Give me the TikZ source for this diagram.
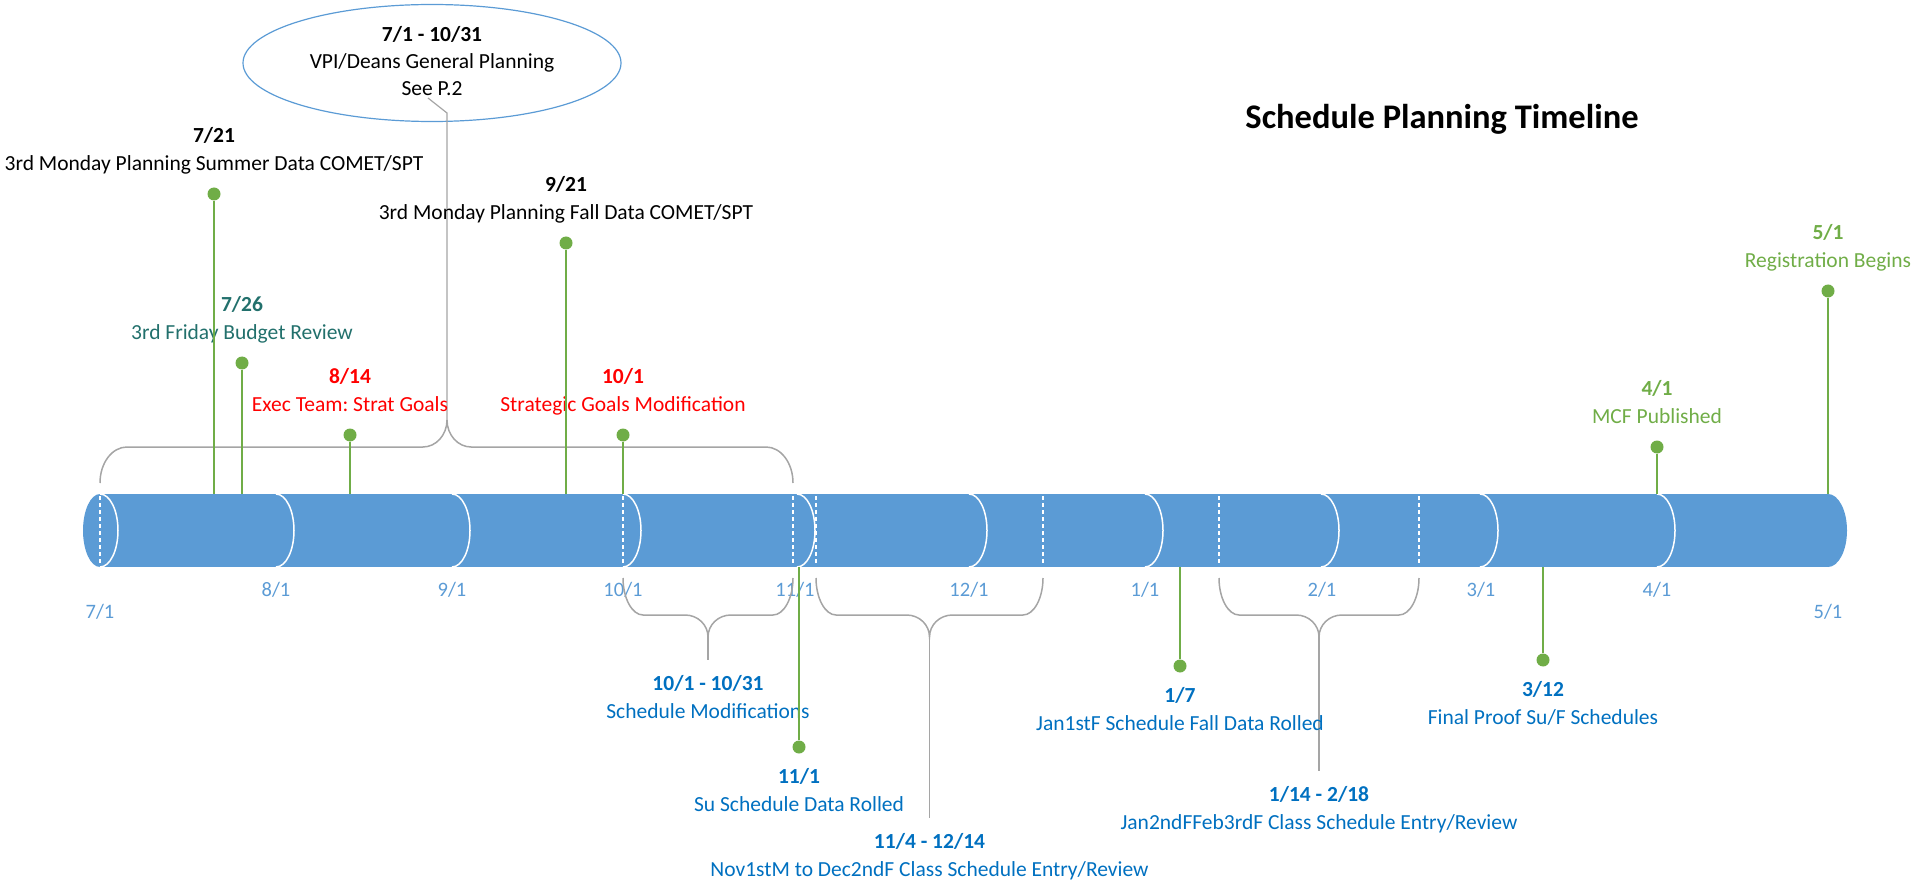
\documentclass[tikz,border=0pt]{standalone}
\usepackage{fontspec}
\setmainfont{Carlito}
\usetikzlibrary{positioning,shapes.geometric}
\frenchspacing

\definecolor{barblue}{HTML}{5B9BD5}
\definecolor{dotgreen}{HTML}{70AD47}
\definecolor{bracegray}{HTML}{A5A5A5}
\definecolor{evblue}{HTML}{0070C0}
\definecolor{evteal}{HTML}{22706C}
\definecolor{evred}{HTML}{FF0000}

\newcommand\evlabel[2]{\textbf{#1}\strut\\#2\strut}

\begin{document}
\begin{tikzpicture}[x=1pt, y=1pt,
    font=\fontsize{21.5}{28}\selectfont,
    dot/.style={circle, fill=dotgreen, inner sep=0pt, minimum size=13pt},
    stem/.style={dotgreen, line width=2pt},
    evtext/.style={align=center, inner sep=0pt},
    bracepath/.style={bracegray, line width=1.5pt},
    segarc/.style={white, line width=1.5pt},
    segcut/.style={white, line width=1.5pt, dash pattern=on 4pt off 3pt},
    month/.style={text=barblue, inner sep=0pt, font=\fontsize{20.5}{24}\selectfont}]
  \useasboundingbox (0,0) rectangle (1916,-882);

  % Title
  \node[font=\fontsize{34.5}{40}\selectfont\bfseries] (title) at (1442,-119) {Schedule Planning Timeline};

  % Timeline bar
  \coordinate (bartop) at (0,-494);
  \coordinate (barbot) at (0,-567);
  \fill[barblue] (100,-494) rectangle (1828,-567);
  \fill[barblue] (100,-530.5) ellipse [x radius=17, y radius=36.5];
  \fill[barblue] (1828,-494) arc [start angle=90, end angle=-90, x radius=19, y radius=36.5] -- cycle;
  \foreach \x in {100,276,452,623,797,969,1145,1321,1480,1657}
    \draw[segarc] (\x,-494) arc [start angle=90, end angle=-90, x radius=18, y radius=36.5];
  \foreach \x in {100,623,793,816,1043,1219,1419}
    \draw[segcut] (\x,-496) -- (\x,-565);

  % Months
  \foreach \x/\m in {276/8,452/9,623/10,795/11,969/12,1145/1,1322/2,1481/3,1657/4}
    \node[month] (m\m) at (\x,-590) {\m/1};
  \node[month] (m7) at (100,-612) {7/1};
  \node[month] (m5) at (1828,-612) {5/1};

  % General planning
  \node[ellipse, draw=barblue, line width=1.2pt, inner sep=0pt, minimum width=378pt,
        minimum height=117pt, align=center, font=\fontsize{21.5}{27}\selectfont] (vpi) at (432,-63)
        {\textbf{7/1 - 10/31}\strut\\VPI/Deans General Planning\strut\\See P.2\strut};
  \coordinate (seep) at (428,-98);
  \coordinate (toptip) at (447,-420);
  \draw[bracepath] (100,-483) .. controls (100,-463) and (112,-447) .. (127,-447)
    -- (423,-447) .. controls (436,-447) and (447,-435) .. (toptip)
    .. controls (447,-435) and (458,-447) .. (471,-447)
    -- (766,-447) .. controls (781,-447) and (793,-463) .. (793,-483);
  \draw[bracegray, line width=1.2pt] (seep) -- ++(19,-15) -- (toptip);

  % Ranges below the bar
  \foreach \a/\b/\n/\s in {623/793/A/660, 816/1043/B/818, 1219/1419/C/771}{
    \pgfmathsetmacro\m{(\a+\b)/2}
    \coordinate (tip\n) at (\m,-637);
    \coordinate (end\n) at (\m,-\s);
    \draw[bracepath] (\a,-578) .. controls (\a,-598) and ({\a+9},-615) .. ({\a+20},-615)
      -- ({\m-23},-615) .. controls ({\m-10},-615) and (\m,-625) .. (tip\n)
      .. controls (\m,-625) and ({\m+10},-615) .. ({\m+23},-615)
      -- ({\b-20},-615) .. controls ({\b-9},-615) and (\b,-598) .. (\b,-578);
    \draw[bracepath] (tip\n) -- (end\n);
  }
  \node[evtext, text=evblue, below=11pt of endA] (tA) {\evlabel{10/1 - 10/31}{Schedule Modifications}};
  \node[evtext, text=evblue, below=11pt of endB] (tB) {\evlabel{11/4 - 12/14}{Nov1stM to Dec2ndF Class Schedule Entry/Review}};
  \node[evtext, text=evblue, below=11pt of endC] (tC) {\evlabel{1/14 - 2/18}{Jan2ndFFeb3rdF Class Schedule Entry/Review}};

  % Events above the bar
  \node[dot] (d721) at (214,-194) {};
  \node[evtext, above=8.6pt of d721] (t721) {\evlabel{7/21}{3rd Monday Planning Summer Data COMET/SPT}};
  \node[dot] (d726) at (242,-363) {};
  \node[evtext, text=evteal, above=8.6pt of d726] (t726) {\evlabel{7/26}{3rd Friday Budget Review}};
  \node[dot] (d814) at (350,-435) {};
  \node[evtext, text=evred, above=8.6pt of d814] (t814) {\evlabel{8/14}{Exec Team: Strat Goals}};
  \node[dot] (d921) at (566,-243) {};
  \node[evtext, above=8.6pt of d921] (t921) {\evlabel{9/21}{3rd Monday Planning Fall Data COMET/SPT}};
  \node[dot] (d101) at (623,-435) {};
  \node[evtext, text=evred, above=8.6pt of d101] (t101) {\evlabel{10/1}{Strategic Goals Modification}};
  \node[dot] (d401) at (1657,-447) {};
  \node[evtext, text=dotgreen, above=8.6pt of d401] (t401) {\evlabel{4/1}{MCF Published}};
  \node[dot] (d501) at (1828,-291) {};
  \node[evtext, text=dotgreen, above=8.6pt of d501] (t501) {\evlabel{5/1}{Registration Begins}};

  % Events below the bar
  \node[dot] (d111) at (799,-747) {};
  \node[evtext, text=evblue, below=10.4pt of d111] (t111) {\evlabel{11/1}{Su Schedule Data Rolled}};
  \node[dot] (d107) at (1180,-666) {};
  \node[evtext, text=evblue, below=10.4pt of d107] (t107) {\evlabel{1/7}{Jan1stF Schedule Fall Data Rolled}};
  \node[dot] (d312) at (1543,-660) {};
  \node[evtext, text=evblue, below=10.4pt of d312] (t312) {\evlabel{3/12}{Final Proof Su/F Schedules}};

  % Connect the events
  \draw[stem, line width=1.2pt] (d721) -- (d721 |- bartop);
  \draw[stem] (d726) -- (d726 |- bartop);
  \draw[stem] (d814) -- (d814 |- bartop);
  \draw[stem] (d921) -- (d921 |- bartop);
  \draw[stem] (d101) -- (d101 |- bartop);
  \draw[stem, line width=1.2pt] (d401) -- (d401 |- bartop);
  \draw[stem] (d501) -- (d501 |- bartop);
  \draw[stem] (d111) -- (d111 |- barbot);
  \draw[stem] (d107) -- (d107 |- barbot);
  \draw[stem] (d312) -- (d312 |- barbot);
\end{tikzpicture}
\end{document}
